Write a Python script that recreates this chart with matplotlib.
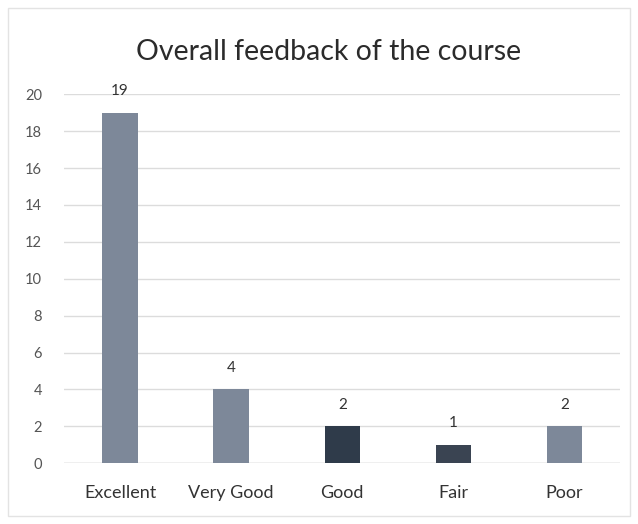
import matplotlib
matplotlib.use("Agg")
import matplotlib.pyplot as plt
import numpy as np

plt.rcParams['font.family'] = ['Lato', 'DejaVu Sans']

categories = ["Excellent", "Very Good", "Good", "Fair", "Poor"]
counts = [19, 4, 2, 1, 2]
bar_colors = ["#7d8899", "#7d8899", "#2f3b4a", "#3a4452", "#7d8899"]
yticks = list(range(0, 21, 2))

fig = plt.figure(figsize=(6.38, 5.24), dpi=100)
fig.patch.set_facecolor("white")
ax = fig.add_axes([0.101, 0.116, 0.871, 0.704])

x = np.arange(len(categories))
bars = ax.bar(x, counts, width=0.32, color=bar_colors, zorder=3)

for xi, v in zip(x, counts):
    ax.text(xi, v + 0.8, str(v), ha="center", va="bottom", fontsize=11, color="#333333")

ax.set_xlim(-0.5, len(categories) - 0.5)
ax.set_ylim(0, 20)
ax.set_yticks(yticks)
ax.set_yticklabels([str(t) for t in yticks], fontsize=10.5, color="#555555")
ax.set_xticks(x)
ax.set_xticklabels(categories, fontsize=13, color="#333333")
ax.tick_params(axis="both", length=0)
ax.tick_params(axis="x", pad=16)
ax.tick_params(axis="y", pad=16)

ax.yaxis.grid(True, color="#dcdcdc", linewidth=1, zorder=0)
for s in ax.spines.values():
    s.set_visible(False)
ax.axhline(0, color="#cfcfcf", linewidth=1, zorder=2)

fig.text(0.515, 0.9, "Overall feedback of the course", ha="center", va="center",
         fontsize=20.5, color="#2b2b2b")

# thin outline around the chart area
fig.add_artist(plt.Rectangle((0.012, 0.015), 0.975, 0.97, transform=fig.transFigure,
                             fill=False, edgecolor="#e3e3e3", linewidth=1))

fig.savefig("out.png", dpi=100)
